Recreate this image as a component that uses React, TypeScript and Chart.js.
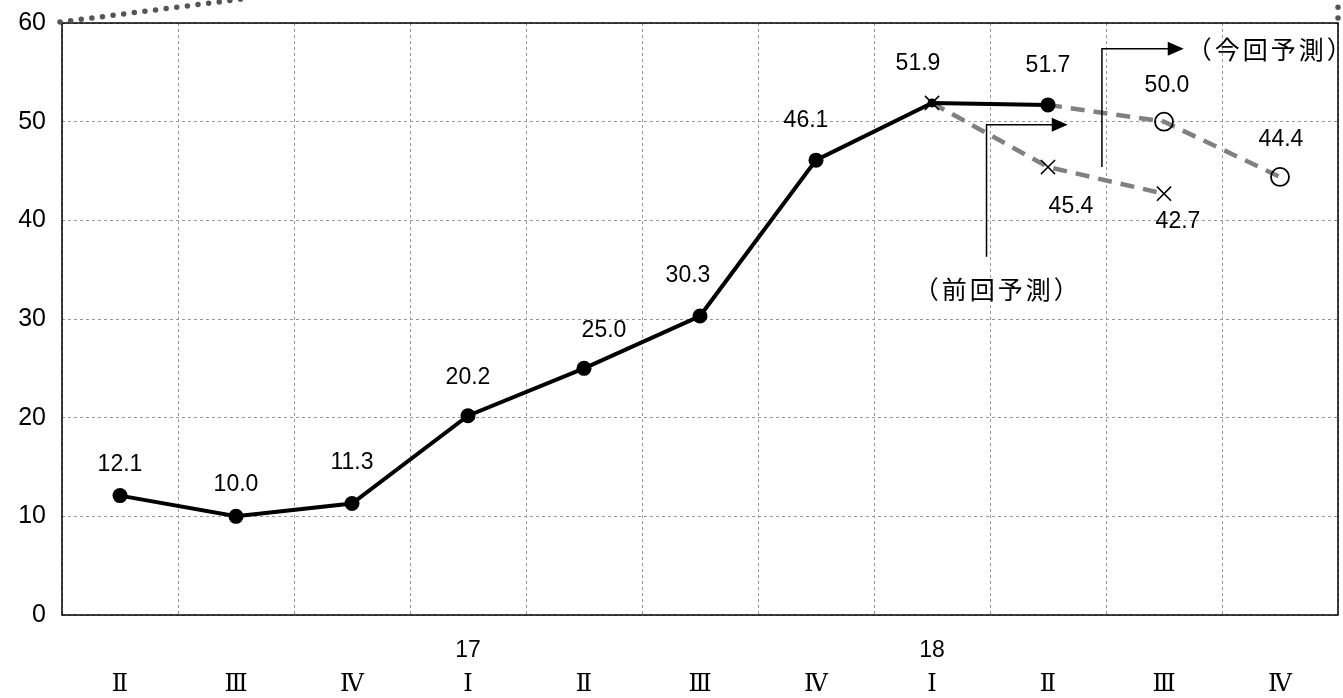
import React, { useEffect, useRef } from "react";
import { Chart, registerables } from "chart.js";

Chart.register(...registerables);

const yearLabels = ["", "", "", "17", "", "", "", "18", "", "", ""];
const quarterLabels = ["Ⅱ", "Ⅲ", "Ⅳ", "Ⅰ", "Ⅱ", "Ⅲ", "Ⅳ", "Ⅰ", "Ⅱ", "Ⅲ", "Ⅳ"];
const actualValues: (number | null)[] = [12.1, 10.0, 11.3, 20.2, 25.0, 30.3, 46.1, 51.9, 51.7, null, null];
const previousForecast: (number | null)[] = [null, null, null, null, null, null, null, 51.9, 45.4, 42.7, null];
const currentForecast: (number | null)[] = [null, null, null, null, null, null, null, null, 51.7, 50.0, 44.4];
const yTicks = [0, 10, 20, 30, 40, 50, 60];
const previousLabel = "（前回予測）";
const currentLabel = "（今回予測）";

const NUM_FONT = "'Liberation Sans', Arial, sans-serif";
const JP_FONT = "'Noto Sans CJK JP', sans-serif";
const ROMAN_FONT = "'DejaVu Serif', serif";

// label placement per dataset (style only)
const labelStyle = [
  { show: [true, true, true, true, true, true, true, true, true, false, false], dx: [0, 0, 0, 0, 20, -12, -10, -14, 0, 0, 0], dy: [-31, -32, -41, -38, -38, -40, -39, -39, -39, 0, 0] },
  { show: [false, false, false, false, false, false, false, false, true, true, false], dx: [0, 0, 0, 0, 0, 0, 0, 0, 23, 14, 0], dy: [0, 0, 0, 0, 0, 0, 0, 0, 40, 28, 0] },
  { show: [false, false, false, false, false, false, false, false, false, true, true], dx: [0, 0, 0, 0, 0, 0, 0, 0, 0, 3, 1], dy: [0, 0, 0, 0, 0, 0, 0, 0, 0, -36, -37] },
];

const labelsPlugin = {
  id: "valueLabels",
  afterDatasetsDraw(chart: any) {
    const { ctx, scales, chartArea } = chart;
    ctx.save();
    ctx.font = `23px ${NUM_FONT}`;
    ctx.fillStyle = "#000";
    ctx.textAlign = "center";
    ctx.textBaseline = "middle";
    chart.data.datasets.forEach((ds: any, di: number) => {
      const meta = chart.getDatasetMeta(di);
      const st = labelStyle[di];
      meta.data.forEach((pt: any, i: number) => {
        const v = ds.data[i];
        if (v == null || !st.show[i]) return;
        ctx.fillText(v.toFixed(1), pt.x + st.dx[i], pt.y + st.dy[i]);
      });
    });
    // year labels on the category axis
    ctx.font = `23px ${NUM_FONT}`;
    yearLabels.forEach((yr, i) => {
      if (!yr) return;
      ctx.fillText(yr, scales.x.getPixelForValue(i), chartArea.bottom + 36);
    });
    ctx.restore();
  },
};

function arrowHead(ctx: CanvasRenderingContext2D, x: number, y: number) {
  ctx.beginPath();
  ctx.moveTo(x, y);
  ctx.lineTo(x - 16, y - 7);
  ctx.lineTo(x - 16, y + 7);
  ctx.closePath();
  ctx.fill();
}

const framePlugin = {
  id: "frameAnnot",
  beforeDatasetsDraw(chart: any) {
    const { ctx, chartArea } = chart;
    ctx.save();
    ctx.strokeStyle = "#000";
    ctx.lineWidth = 1.5;
    ctx.strokeRect(chartArea.left, chartArea.top, chartArea.right - chartArea.left, chartArea.bottom - chartArea.top);
    // decorative dotted border fragments
    ctx.strokeStyle = "#555";
    ctx.lineWidth = 5.5;
    ctx.lineCap = "round";
    ctx.setLineDash([0, 10.7]);
    ctx.beginPath();
    ctx.moveTo(chartArea.left - 2, chartArea.top - 1);
    ctx.lineTo(chartArea.left + 180, chartArea.top - 24);
    ctx.stroke();
    ctx.beginPath();
    ctx.moveTo(chartArea.right, chartArea.top - 5);
    ctx.lineTo(chartArea.right, chartArea.top - 25);
    ctx.stroke();
    ctx.restore();
  },
  afterDatasetsDraw(chart: any) {
    const { ctx, scales } = chart;
    const x = scales.x;
    const y = scales.y;
    ctx.save();
    ctx.strokeStyle = "#000";
    ctx.fillStyle = "#000";
    ctx.lineWidth = 1.5;
    // previous forecast pointer
    const px = x.getPixelForValue(7.47);
    const py0 = y.getPixelForValue(36.3);
    const py1 = y.getPixelForValue(49.7);
    const pxe = x.getPixelForValue(8.17);
    ctx.beginPath();
    ctx.moveTo(px, py0);
    ctx.lineTo(px, py1);
    ctx.lineTo(pxe - 12, py1);
    ctx.stroke();
    arrowHead(ctx, pxe, py1);
    // current forecast pointer
    const cx = x.getPixelForValue(8.465);
    const cy0 = y.getPixelForValue(45.4);
    const cy1 = y.getPixelForValue(57.4);
    const cxe = x.getPixelForValue(9.17);
    ctx.beginPath();
    ctx.moveTo(cx, cy0);
    ctx.lineTo(cx, cy1);
    ctx.lineTo(cxe - 12, cy1);
    ctx.stroke();
    arrowHead(ctx, cxe, cy1);
    ctx.font = `25px ${JP_FONT}`;
    (ctx as any).letterSpacing = "3px";
    ctx.textBaseline = "middle";
    ctx.textAlign = "left";
    ctx.fillText(currentLabel, cxe + 3, cy1 + 1);
    ctx.textAlign = "center";
    ctx.fillText(previousLabel, x.getPixelForValue(7.55) + 2, y.getPixelForValue(33.0));
    ctx.restore();
  },
};

export default function App() {
  const ref = useRef<HTMLCanvasElement | null>(null);
  useEffect(() => {
    document.body.style.margin = "0";
    const canvas = ref.current!;
    const chart = new Chart(canvas, {
      type: "line",
      data: {
        labels: quarterLabels,
        datasets: [
          {
            label: "実績",
            data: actualValues,
            borderColor: "#000",
            backgroundColor: "#000",
            borderWidth: 4,
            pointRadius: actualValues.map((_, i) => (i === 7 ? 4.5 : 7.5)),
            pointBackgroundColor: "#000",
            pointBorderColor: "#000",
            pointBorderWidth: 0,
            spanGaps: false,
            order: 0,
          },
          {
            label: previousLabel,
            data: previousForecast,
            borderColor: "#808080",
            borderWidth: 4.5,
            borderDash: [14, 9],
            pointStyle: "crossRot",
            pointRadius: 10,
            pointBorderColor: "#000",
            pointBorderWidth: 1.5,
            pointBackgroundColor: "transparent",
            order: 1,
          },
          {
            label: currentLabel,
            data: currentForecast,
            borderColor: "#808080",
            borderWidth: 4.5,
            borderDash: [14, 9],
            pointStyle: "circle",
            pointRadius: currentForecast.map((_, i) => (i === 8 ? 0 : 9)),
            pointBorderColor: "#000",
            pointBorderWidth: 1.8,
            pointBackgroundColor: "rgba(0,0,0,0)",
            order: 2,
          },
        ],
      },
      plugins: [framePlugin, labelsPlugin],
      options: {
        animation: false,
        responsive: false,
        maintainAspectRatio: false,
        layout: { autoPadding: false, padding: { top: 23, right: 5, left: 0, bottom: 0 } },
        plugins: {
          legend: { display: false },
          tooltip: { enabled: false },
        },
        scales: {
          x: {
            type: "category",
            offset: true,
            grid: {
              offset: true,
              drawTicks: false,
              color: "#999",
              lineWidth: 1,
            },
            border: { display: false, dash: [3, 3] },
            ticks: {
              padding: 55,
              color: "#000",
              font: { family: ROMAN_FONT, size: 24, lineHeight: "30px" } as any,
              maxRotation: 0,
              autoSkip: false,
            },
            afterFit(scale: any) {
              scale.height = 83;
              scale.paddingLeft = 0;
              scale.paddingRight = 0;
            },
          },
          y: {
            min: 0,
            max: 60,
            afterBuildTicks(scale: any) {
              scale.ticks = yTicks.map((v) => ({ value: v }));
            },
            grid: { drawTicks: false, color: "#999", lineWidth: 1 },
            border: { display: false, dash: [3, 3] },
            ticks: {
              padding: 16,
              color: "#000",
              font: { family: NUM_FONT, size: 25 },
            },
            afterFit(scale: any) {
              scale.width = 62;
              scale.paddingTop = 0;
              scale.paddingBottom = 0;
            },
          },
        },
      },
    } as any);
    return () => chart.destroy();
  }, []);
  return (
    <div style={{ width: 1343, height: 698 }}>
      <canvas ref={ref} width={1343} height={698} style={{ display: "block" }} />
    </div>
  );
}
